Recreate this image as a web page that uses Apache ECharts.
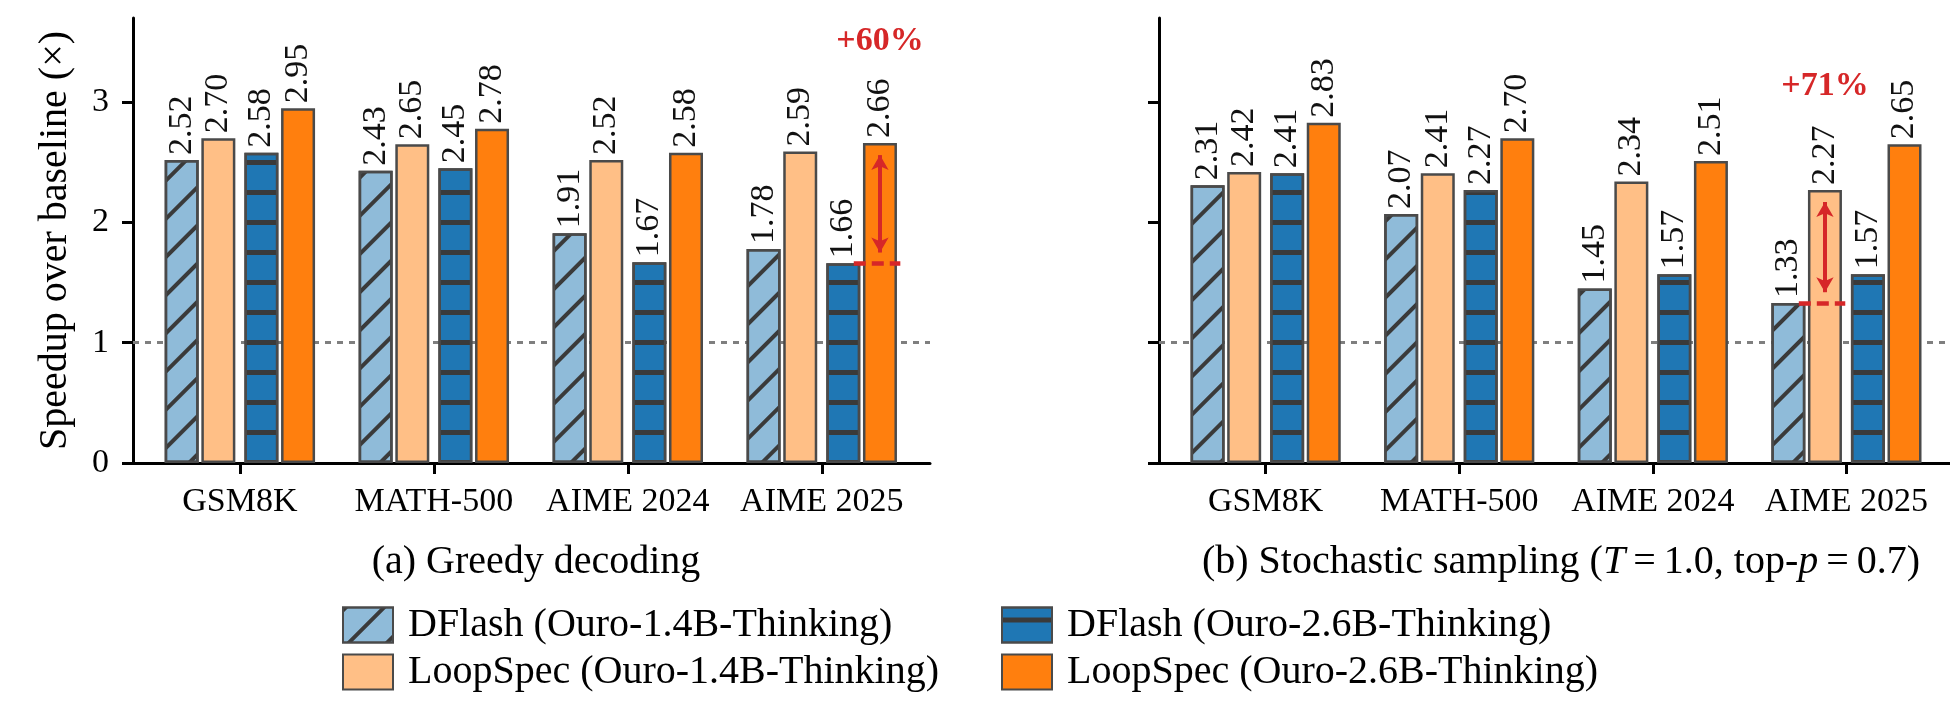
<!DOCTYPE html>
<html>
<head>
<meta charset="utf-8">
<title>Speedup over baseline</title>
<script src="https://cdn.jsdelivr.net/npm/echarts@6/dist/echarts.min.js"></script>
<style>
  html, body { margin: 0; padding: 0; background: #fff; }
  #main { width: 1950px; height: 710px; }
</style>
</head>
<body>
<div id="main"></div>
<script>
// benchmarks and y ticks
const categories = ['GSM8K', 'MATH-500', 'AIME 2024', 'AIME 2025'];
const yTicks = [0, 1, 2, 3];
const seriesNames = [
  'DFlash (Ouro-1.4B-Thinking)',
  'LoopSpec (Ouro-1.4B-Thinking)',
  'DFlash (Ouro-2.6B-Thinking)',
  'LoopSpec (Ouro-2.6B-Thinking)'
];

// (a) greedy decoding
const greedyDFlash14 = [2.52, 2.43, 1.91, 1.78];
const greedyLoop14 = [2.70, 2.65, 2.52, 2.59];
const greedyDFlash26 = [2.58, 2.45, 1.67, 1.66];
const greedyLoop26 = [2.95, 2.78, 2.58, 2.66];

// (b) stochastic sampling
const sampleDFlash14 = [2.31, 2.07, 1.45, 1.33];
const sampleLoop14 = [2.42, 2.41, 2.34, 2.27];
const sampleDFlash26 = [2.41, 2.27, 1.57, 1.57];
const sampleLoop26 = [2.83, 2.70, 2.51, 2.65];

const FONT = '"Liberation Serif", "Times New Roman", serif';
const EDGE = '#4a4a4a';
const RED = '#d62728';
// bar centres inside a group (x units), like x - 1.5w ... in matplotlib
const offsets = [-0.30, -0.111, 0.111, 0.30];

const styles = [
  { color: '#8fbbd9', decal: { color: '#3a3a3a', dashArrayX: [1, 0], dashArrayY: [4, 23], rotation: -Math.PI / 4 } },
  { color: '#ffbf86' },
  { color: '#1f77b4', decal: { color: '#3a3a3a', dashArrayX: [1, 0], dashArrayY: [0, 10, 5, 15] } },
  { color: '#ff7f0e' }
];

// arrow notes: which bar, from / to level, text
const notes = [
  { series: 3, cat: 3, from: 2.66, to: 1.66, text: '+60%', textY: 3.51 },
  { series: 1, cat: 3, from: 2.27, to: 1.33, text: '+71%', textY: 3.13 }
];

function panelSeries(gi, values, note) {
  return values.map((vals, s) => {
    const itemStyle = { color: styles[s].color, borderColor: EDGE, borderWidth: 2.5 };
    if (styles[s].decal) itemStyle.decal = styles[s].decal;
    const ser = {
      type: 'bar',
      name: seriesNames[s],
      xAxisIndex: gi,
      yAxisIndex: gi,
      data: vals.map((v, i) => [i + offsets[s], v]),
      barWidth: 34,
      barGap: '-100%',
      itemStyle: itemStyle,
      label: {
        show: true, position: 'top', rotate: 90, align: 'left', verticalAlign: 'middle',
        distance: 5, fontSize: 34, fontFamily: FONT, color: '#111',
        formatter: p => p.value[1].toFixed(2)
      }
    };
    if (s === 0) {
      // baseline at 1x, behind bars
      ser.markLine = {
        silent: true, z: 1, symbol: 'none', label: { show: false },
        lineStyle: { color: '#7f7f7f', type: [6, 6], width: 3 },
        data: [{ yAxis: 1 }]
      };
    }
    if (s === note.series) {
      const cx = note.cat + offsets[s];
      ser.markLine = {
        silent: true, symbol: ['arrow', 'arrow'], symbolSize: [13, 15],
        label: { show: false },
        lineStyle: { color: RED, type: 'solid', width: 4 },
        data: [
          [{ coord: [cx, note.from - 0.1] }, { coord: [cx, note.to + 0.09] }],
          [
            { coord: [cx - 0.135, note.to], symbol: 'none', lineStyle: { type: [12, 6], width: 4.5 } },
            { coord: [cx + 0.105, note.to], symbol: 'none' }
          ]
        ]
      };
      ser.markPoint = {
        silent: true, symbol: 'circle', symbolSize: 1,
        itemStyle: { color: 'rgba(0,0,0,0)' },
        label: {
          show: true, position: 'inside', color: RED, fontWeight: 'bold',
          fontSize: 34, fontFamily: FONT, formatter: note.text
        },
        data: [{ coord: [cx, note.textY] }]
      };
    }
    return ser;
  });
}

function xAxisFor(gi, max) {
  return {
    type: 'value', gridIndex: gi, min: -0.551, max: max,
    axisLine: { show: true, onZero: false, lineStyle: { color: '#000', width: 3 } },
    axisTick: { show: true, customValues: [0, 1, 2, 3], length: 11, lineStyle: { color: '#000', width: 3 } },
    axisLabel: {
      customValues: [0, 1, 2, 3], formatter: v => categories[Math.round(v)],
      fontSize: 34, fontFamily: FONT, color: '#000', margin: 22
    },
    splitLine: { show: false }
  };
}

function yAxisFor(gi) {
  return {
    type: 'value', gridIndex: gi, min: 0, max: 3.7,
    name: gi === 0 ? 'Speedup over baseline (\u00d7)' : '',
    nameLocation: 'middle', nameGap: 58,
    nameTextStyle: { fontSize: 40, fontFamily: FONT, color: '#000' },
    axisLine: { show: true, onZero: false, lineStyle: { color: '#000', width: 3 } },
    axisTick: { show: true, customValues: yTicks, length: 11, lineStyle: { color: '#000', width: 3 } },
    axisLabel: {
      show: gi === 0, customValues: yTicks,
      fontSize: 34, fontFamily: FONT, color: '#000', margin: 24
    },
    splitLine: { show: false }
  };
}

const legendBase = {
  orient: 'vertical', top: 605, padding: 0, itemWidth: 50, itemHeight: 35, itemGap: 7,
  icon: 'rect', selectedMode: false,
  textStyle: { fontSize: 40, fontFamily: FONT, color: '#000', padding: [0, 0, 0, 10] }
};

const chart = echarts.init(document.getElementById('main'));
chart.setOption({
  animation: false,
  backgroundColor: '#fff',
  title: [
    {
      text: '(a) Greedy decoding', left: 531, top: 537, textAlign: 'center',
      textStyle: { fontSize: 40, fontWeight: 'normal', fontFamily: FONT, color: '#000' }
    },
    {
      text: '(b) Stochastic sampling ({it|T}\u2009=\u20091.0, top-{it|p}\u2009=\u20090.7)',
      left: 1556, top: 537, textAlign: 'center',
      textStyle: {
        fontSize: 40, fontWeight: 'normal', fontFamily: FONT, color: '#000',
        rich: { it: { fontSize: 40, fontStyle: 'italic', fontFamily: FONT, color: '#000' } }
      }
    }
  ],
  legend: [
    Object.assign({}, legendBase, { left: 342, data: [seriesNames[0], seriesNames[1]] }),
    Object.assign({}, legendBase, { left: 1001, data: [seriesNames[2], seriesNames[3]] })
  ],
  grid: [
    { left: 133, right: 1020, top: 18, bottom: 247, outerBoundsMode: 'none' },
    { left: 1159, right: 0, top: 18, bottom: 247, outerBoundsMode: 'none' }
  ],
  xAxis: [xAxisFor(0, 3.558), xAxisFor(1, 3.535)],
  yAxis: [yAxisFor(0), yAxisFor(1)],
  series: [].concat(
    panelSeries(0, [greedyDFlash14, greedyLoop14, greedyDFlash26, greedyLoop26], notes[0]),
    panelSeries(1, [sampleDFlash14, sampleLoop14, sampleDFlash26, sampleLoop26], notes[1])
  )
});
</script>
</body>
</html>
